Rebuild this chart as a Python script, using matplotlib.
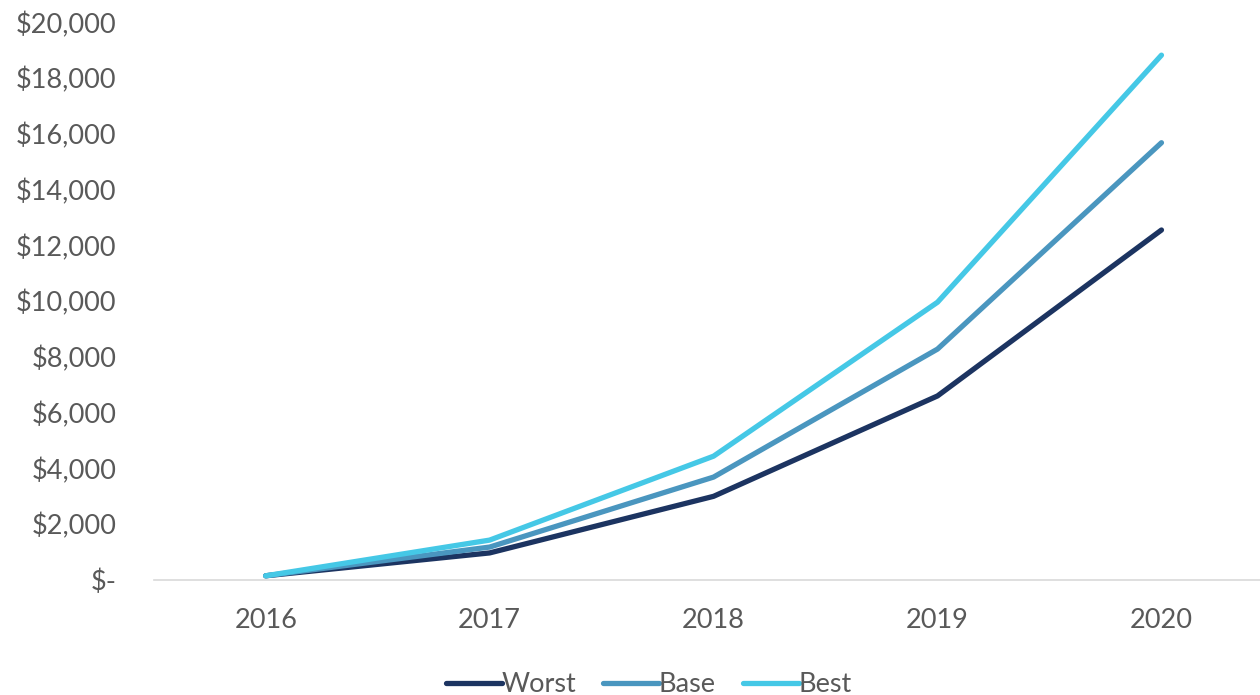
import matplotlib.pyplot as plt
from matplotlib.ticker import FuncFormatter

plt.rcParams['font.family'] = ['Lato', 'DejaVu Sans']

years = ['2016', '2017', '2018', '2019', '2020']
worst = [150, 970, 3000, 6600, 12550]
base = [150, 1180, 3690, 8280, 15680]
best = [150, 1430, 4440, 9960, 18820]

names = ['Worst', 'Base', 'Best']
colors = ['#1c3461', '#4a96bf', '#45c8e6']
text_color = '#595959'

fig = plt.figure(figsize=(12.6, 6.95), dpi=100)
ax = fig.add_axes([0.122, 0.1655, 0.878, 0.8025])

x = range(len(years))
for vals, name, c in zip([worst, base, best], names, colors):
    ax.plot(x, vals, color=c, lw=3.8, solid_capstyle='round',
            solid_joinstyle='round', label=name)

ax.set_xlim(-0.5, 4.44)
ax.set_ylim(0, 20000)
ax.set_yticks(range(0, 20001, 2000))
ax.yaxis.set_major_formatter(FuncFormatter(
    lambda v, p: '$-' if v == 0 else f'${v:,.0f}'))
ax.set_xticks(list(x))
ax.set_xticklabels(years)

for s in ['top', 'right', 'left']:
    ax.spines[s].set_visible(False)
ax.spines['bottom'].set_color('#d9d9d9')
ax.spines['bottom'].set_linewidth(1.2)
ax.tick_params(axis='both', length=0, labelsize=19.5, colors=text_color)
ax.tick_params(axis='x', pad=20)
ax.tick_params(axis='y', pad=27)

leg = fig.legend(loc='lower center', bbox_to_anchor=(0.515, -0.038), ncol=3,
                 frameon=False, fontsize=19.5, handlelength=2.05,
                 handletextpad=0.0, columnspacing=1.0)
for t in leg.get_texts():
    t.set_color(text_color)

fig.savefig('out.png', dpi=100)
